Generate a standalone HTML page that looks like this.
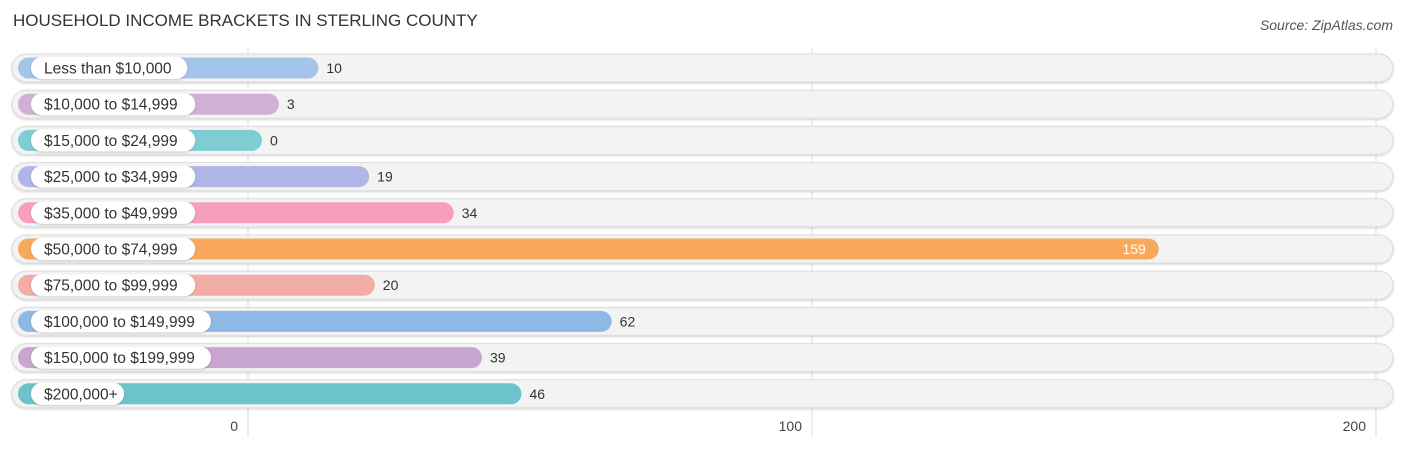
<!DOCTYPE html>
<html><head><meta charset="utf-8"><style>
body{margin:0;background:#fff;font-family:"Liberation Sans",sans-serif}
svg text{font-family:"Liberation Sans",sans-serif}
</style></head><body>
<svg id="chart" width="1406" height="449" xmlns="http://www.w3.org/2000/svg">
<defs><filter id="sh" x="-5%" y="-30%" width="110%" height="160%"><feDropShadow dx="0" dy="1" stdDeviation="1" flood-color="#000" flood-opacity="0.18"/></filter></defs>
<text x="13" y="26" font-size="17" fill="#333">HOUSEHOLD INCOME BRACKETS IN STERLING COUNTY</text>
<text x="1393" y="30" font-size="14" font-style="italic" fill="#555" text-anchor="end">Source: ZipAtlas.com</text>
<g id="grid"></g><g id="rows"></g><g id="ticks"></g>
</svg>
<script>
const categories=["Less than $10,000","$10,000 to $14,999","$15,000 to $24,999","$25,000 to $34,999","$35,000 to $49,999","$50,000 to $74,999","$75,000 to $99,999","$100,000 to $149,999","$150,000 to $199,999","$200,000+"];
const values=[10,3,0,19,34,159,20,62,39,46];
const colors=["#a4c4e9","#d0b1d4","#7ecdd3","#b0b5e8","#f79fbb","#f8a95c","#f1aca6","#8eb8e5","#c8a6cf","#6cc3cc"];
const tickValues=[0,100,200];
const tickLabels=["0","100","200"];
const NS="http://www.w3.org/2000/svg";
const x=v=>248+v*5.64;
const rowY=i=>68+i*36.2;
function mk(t,a,p){const e=document.createElementNS(NS,t);for(const k in a)e.setAttribute(k,a[k]);p.appendChild(e);return e;}
const grid=document.getElementById('grid'),rows=document.getElementById('rows'),ticks=document.getElementById('ticks');
tickValues.forEach((v,i)=>{
 const l=mk('line',{x1:x(v),x2:x(v),y1:48,y2:437,stroke:'#ddd','stroke-width':1},grid);
 
 
 const t=mk('text',{x:x(v)-10,y:431,'font-size':14,fill:'#444','text-anchor':'end'},ticks);
 t.textContent=tickLabels[i];
 
 
});
categories.forEach((c,i)=>{
 const cy=rowY(i);
 const g=mk('g',{},rows);
 
 
 const tr=mk('rect',{x:12,y:cy-14,width:1381,height:28,rx:14,fill:'#f3f3f3',stroke:'#dcdcdc','stroke-width':1,filter:'url(#sh)'},g);
 
 
 const end=x(values[i])+14;
 const b=mk('rect',{x:18,y:cy-10.5,width:end-18,height:21,rx:10.5,fill:colors[i]},g);
 
 
 const pw=c.length*7.9+22;
 const p=mk('rect',{x:31,y:cy-11,width:pw,height:22,rx:11,fill:'#fff',filter:'url(#sh)'},g);
 
 
 const lt=mk('text',{x:44,y:cy+5.5,'font-size':15.5,fill:'#333'},g);
 lt.textContent=c;
 
 
 const inside=values[i]>120;
 const vt=mk('text',{x:inside?end-13:end+8,y:cy+5,'font-size':14,fill:inside?'#fff':'#333','text-anchor':inside?'end':'start'},g);
 vt.textContent=values[i];
 
 
});
</script>
</body></html>
